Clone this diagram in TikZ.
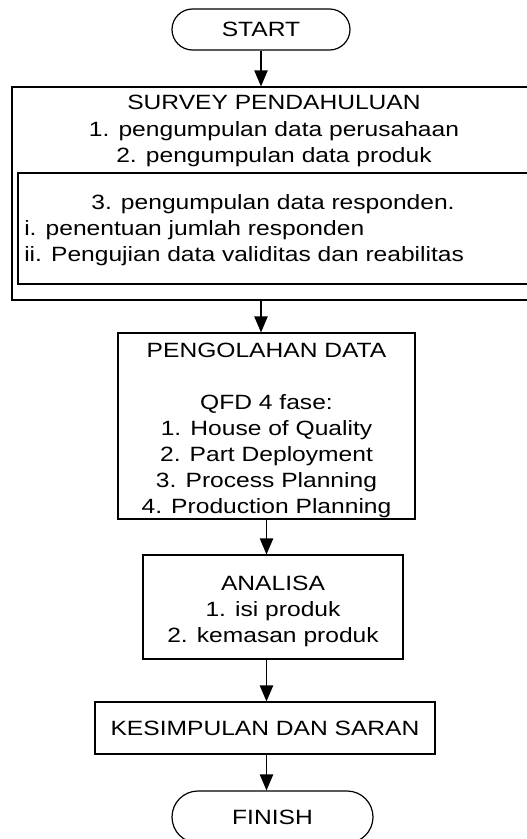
\documentclass[tikz,border=0pt]{standalone}
\usepackage{fontspec}
\setmainfont{Liberation Sans}[FakeStretch=1.19]
\usetikzlibrary{shapes.misc, arrows.meta}

\begin{document}
\begin{tikzpicture}[
    x=0.75pt, y=-0.75pt,
    every node/.style={font=\fontsize{15.5pt}{19.6pt}\selectfont, inner sep=0pt},
    box/.style={rectangle, draw, line width=0.9pt, align=center},
    term/.style={rounded rectangle, draw, line width=0.9pt},
    txt/.style={align=center},
    flow/.style={-{Triangle[length=12pt,width=10pt]}, line width=0.9pt},
]
\useasboundingbox (0,0) rectangle (526,839);

%% terminators
\node[term, minimum width=133.5pt, minimum height=30.75pt] (start) at (261,29.5) {START};
\node[term, minimum width=150.75pt, minimum height=39pt] (finish) at (272.5,817) {FINISH};

%% survey block (outer frame, header, inner frame)
\node[box, minimum width=393pt, minimum height=159.75pt] (survey) at (274,193.5) {};
\node[txt] (surveyhead) at (274,131) {%
    SURVEY PENDAHULUAN\\
    1. pengumpulan data perusahaan\\
    2. pengumpulan data produk%
};
\node[box, minimum width=382.5pt, minimum height=83.25pt] (resp) at (273,228.5) {};
\node[txt] (resphead) at (273,204) {3. pengumpulan data responden.};
\node[align=left, anchor=west] (respitems) at (24,243) {%
    i. penentuan jumlah responden\\
    ii. Pengujian data validitas dan reabilitas%
};

%% processing steps
\node[box, minimum width=222.75pt, minimum height=139.5pt] (olah) at (266.5,426) {%
    \rule{0pt}{17.5pt}PENGOLAHAN DATA\\
    \strut\\
    QFD 4 fase:\\
    1. House of Quality\\
    2. Part Deployment\\
    3. Process Planning\\
    4. Production Planning%
};
\node[box, minimum width=195pt, minimum height=78pt] (analisa) at (273,607) {%
    \rule{0pt}{18pt}ANALISA\\
    1. isi produk\\
    2. kemasan produk%
};
\node[box, minimum width=255pt, minimum height=39pt] (simpul) at (265,728) {KESIMPULAN DAN SARAN};

%% connectors
\draw[flow] (start.south) -- (start.south |- survey.north);
\draw[flow] (start.south |- survey.south) -- (start.south |- olah.north);
\draw[flow] (olah.south) -- (olah.south |- analisa.north);
\draw[flow] (olah.south |- analisa.south) -- (olah.south |- simpul.north);
\draw[flow] (olah.south |- simpul.south) -- (olah.south |- finish.north);

\end{tikzpicture}
\end{document}
